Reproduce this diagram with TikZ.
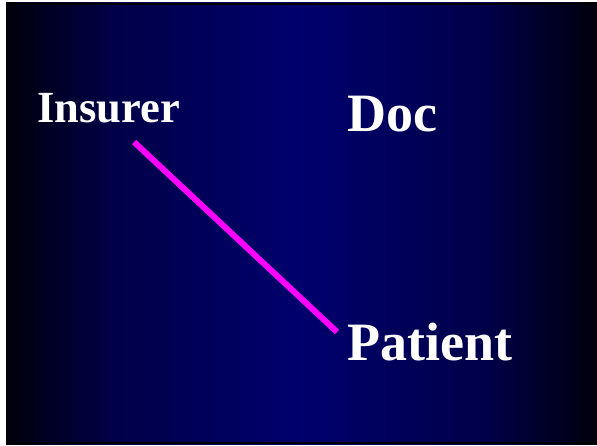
\documentclass[tikz,border=0pt]{standalone}
\usepackage{fontspec}
\setmainfont{Liberation Serif}
\definecolor{linkmag}{RGB}{255,0,255}
\pgfdeclarehorizontalshading{slidebg}{100bp}{
  rgb(0bp)=(0,0,0.05);
  rgb(25bp)=(0,0,0.05);
  rgb(34bp)=(0,0,0.28);
  rgb(50bp)=(0,0,0.43);
  rgb(66bp)=(0,0,0.28);
  rgb(75bp)=(0,0,0.05);
  rgb(100bp)=(0,0,0.05)}
\begin{document}
\begin{tikzpicture}[x=1pt,y=-1pt,
  lbl/.style={anchor=base west,inner sep=0pt,text=white,font=\bfseries},
  link/.style={draw=linkmag,line width=6pt,line cap=butt}]
\useasboundingbox (0,0) rectangle (597,446);
\fill[white] (0,0) rectangle (597,446);
\shade[shading=slidebg] (6,3) rectangle (597,444);
\draw[black,line width=2pt] (7,4) rectangle (597,443);
\node[lbl,font=\bfseries\fontsize{44.5}{44.5}\selectfont] (ins) at (37,123) {Insurer};
\node[lbl,font=\bfseries\fontsize{54}{54}\selectfont] (doc) at (347,132) {Doc};
\node[lbl,font=\bfseries\fontsize{54}{54}\selectfont] (pat) at (347,360) {Patient};
\coordinate (a) at (134,142);
\coordinate (b) at (337,332);
\draw[link] (a) -- (b);
\end{tikzpicture}
\end{document}
